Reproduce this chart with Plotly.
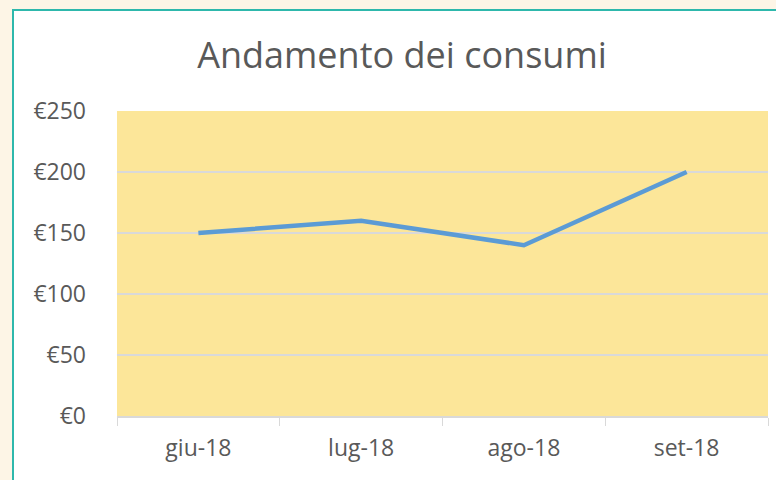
import plotly.graph_objects as go

months = ["giu-18", "lug-18", "ago-18", "set-18"]
consumi = [150, 160, 140, 200]
y_ticks = [0, 50, 100, 150, 200, 250]
y_tick_labels = ["€0", "€50", "€100", "€150", "€200", "€250"]

W, H = 776, 480
L, R, T, B = 117, 8, 111, 64
pw, ph = W - L - R, H - T - B

def px(x):
    return (x - L) / pw

def py(y):
    return (H - B - y) / ph

fig = go.Figure()
fig.add_trace(go.Scatter(
    x=months, y=consumi, mode="lines",
    line=dict(color="#5B9BD5", width=4.5),
    hoverinfo="x+y",
))

# white chart card with teal border (left/top visible)
fig.add_shape(type="rect", xref="paper", yref="paper",
              x0=px(13), x1=px(800), y0=py(510), y1=py(10),
              fillcolor="white", line=dict(color="#2EB8AC", width=2),
              layer="below")
# yellow plot area
fig.add_shape(type="rect", xref="paper", yref="paper",
              x0=0, x1=1, y0=0, y1=1,
              fillcolor="#FCE699", line=dict(width=0), layer="below")

fig.update_layout(
    width=W, height=H,
    margin=dict(l=L, r=R, t=T, b=B),
    paper_bgcolor="#FDF5E6",
    plot_bgcolor="rgba(0,0,0,0)",
    showlegend=False,
    font=dict(family="Open Sans, Liberation Sans, sans-serif", color="#595959", size=23),
    title=dict(text="Andamento dei consumi", x=402 / W, xanchor="center",
               y=1 - 55 / H, yanchor="middle",
               font=dict(size=36, color="#595959")),
    xaxis=dict(
        type="category", tickson="boundaries", ticks="outside", ticklen=8,
        tickcolor="#D9D9D9", showline=True, linecolor="#D9D9D9", linewidth=1.5,
        showgrid=False, tickfont=dict(size=23, color="#595959"),
        ticklabelstandoff=11, range=[-0.5, 3.5],
    ),
    yaxis=dict(
        range=[0, 250], tickvals=y_ticks, ticktext=y_tick_labels,
        showgrid=True, gridcolor="#D9D9D9", gridwidth=1.5,
        zeroline=False, showline=False, ticks="",
        ticklabelstandoff=30, tickfont=dict(size=23, color="#595959"),
    ),
)

fig.write_html("out.html", config={"displayModeBar": False},
               post_script="document.body.style.margin='0';document.body.style.padding='0';")
